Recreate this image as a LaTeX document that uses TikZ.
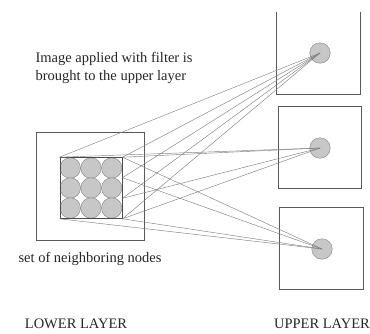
\documentclass[tikz,border=0pt]{standalone}
\usepackage{fontspec}
\setmainfont{Liberation Serif}
\usepackage{tikz}
\usetikzlibrary{calc,positioning,fit}

\begin{document}
\begin{tikzpicture}[x=1pt,y=-1pt,
		layer/.style={shape=rectangle,draw=black!65,line width=0.9pt,minimum width=83pt,minimum height=82pt},
		unit/.style={shape=circle,draw=black!50,fill=black!22,minimum size=20.5pt,inner sep=0pt},
		link/.style={draw=black!50,line width=0.45pt},
		lbl/.style={font=\fontsize{14.5}{18}\selectfont,text=black!85}]
		\useasboundingbox (0,0) rectangle (370,333);
		% upper layer
		\node(box1) at (318,53) [layer,draw=none] {};
		\draw [black!65,line width=0.9pt] (box1.north west) -- (box1.south west) -- (box1.south east) -- (box1.north east);
		\node(u1) at (320,53) [unit] {};
		\node(box2) at (319.5,147.5) [layer] {};
		\node(u2) at (320,148) [unit] {};
		\node(box3) at (321,248.5) [layer,minimum width=84pt] {};
		\node(u3) at (322,249) [unit] {};
		% lower layer
		\node(lower) at (90,186) [layer,minimum width=108pt,minimum height=108pt] {};
		\foreach \i in {1,2,3}
			\foreach \j in {1,2,3}
				\node(n\i\j) at ({49.6+20.7*\i},{148+20*\j}) [unit] {};
		\node(grid) [fit=(n11)(n33),inner sep=0pt,draw=black!70,line width=0.7pt] {};
		\coordinate (r2) at ($(grid.north east)!1/3!(grid.south east)$);
		\coordinate (r3) at ($(grid.north east)!2/3!(grid.south east)$);
		% connections
		\foreach \s in {grid.north west,grid.north east,r2,r3,grid.south east}
			\draw [link] (\s) -- (u1.center);
		\foreach \s in {grid.north west,grid.north east,r3,grid.south east}
			\draw [link] (\s) -- (u2.center);
		\foreach \s in {grid.north east,r2,grid.south west,grid.south east}
			\draw [link] (\s) -- (u3.center);
		% texts
		\node(caption) at (32,49) [lbl,align=left,anchor=north west] {Image applied with filter is\\brought to the upper layer};
		\node(neigh) [lbl,below=8pt of lower] {set of neighboring nodes};
		\node(lowlbl) at (76,324) [lbl] {LOWER LAYER};
		\node(uplbl) at (322,324) [lbl] {UPPER LAYER};
	\end{tikzpicture}
\end{document}
